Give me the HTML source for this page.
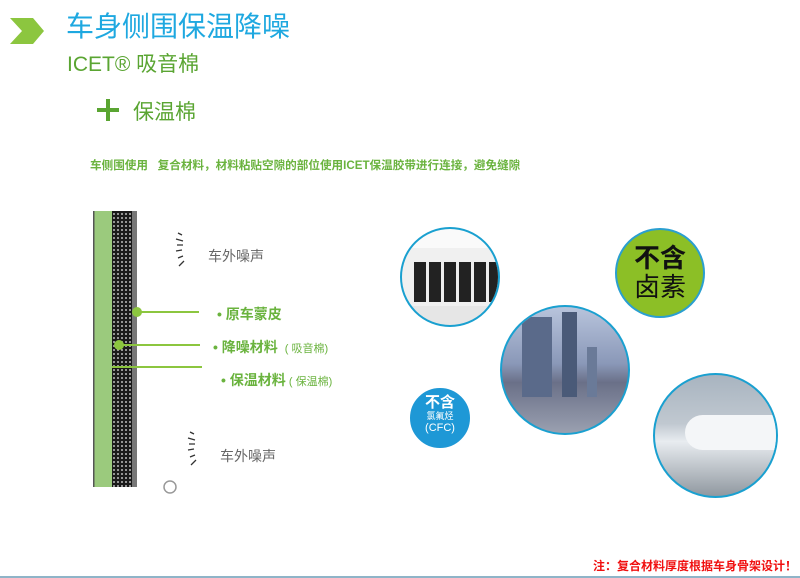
<!DOCTYPE html>
<html><head><meta charset="utf-8"><style>
body{margin:0;width:800px;height:578px;background:#fff;position:relative;overflow:hidden;font-family:"Liberation Sans","Noto Sans CJK SC",sans-serif}
.a{position:absolute;white-space:nowrap}
.c{position:absolute;border-radius:50%;box-sizing:border-box;border:2px solid #1aa0d0;overflow:hidden}
</style></head><body>
<svg class="a" style="left:0;top:0" width="800" height="578">
<polygon points="10,18 33,18 44,31 33,44 10,44 22,31" fill="#8cc63f"/>
<rect x="97" y="108" width="22" height="4" fill="#5aa532"/>
<rect x="106" y="99" width="4" height="22" fill="#5aa532"/>
<defs><pattern id="p" width="4" height="4" patternUnits="userSpaceOnUse"><rect width="4" height="4" fill="#1a1a1a"/><circle cx="2" cy="2" r="1" fill="#bbb"/></pattern></defs>
<rect x="93" y="211" width="19" height="276" fill="#9bca7d"/>
<rect x="93" y="211" width="1.5" height="276" fill="#555"/>
<rect x="112" y="211" width="20" height="276" fill="url(#p)"/>
<rect x="132" y="211" width="5" height="276" fill="#777"/>
<line x1="136" y1="312" x2="199" y2="312" stroke="#8cc63f" stroke-width="2"/>
<circle cx="137" cy="312" r="5" fill="#8cc63f"/>
<line x1="119" y1="345" x2="200" y2="345" stroke="#8cc63f" stroke-width="2"/>
<circle cx="119" cy="345" r="5" fill="#8cc63f"/>
<line x1="112" y1="367" x2="202" y2="367" stroke="#8cc63f" stroke-width="2"/>
<g stroke="#333" stroke-width="1.3">
<path d="M178,233 l4,2 M176,239 l7,2 M177,245 l6,0 M176,251 l6,-1 M178,258 l5,-2 M179,266 l5,-5"/>
<path d="M190,432 l4,2 M188,438 l7,2 M189,444 l6,0 M188,450 l6,-1 M190,457 l5,-2 M191,465 l5,-5"/>
</g>
<circle cx="170" cy="487" r="6" fill="none" stroke="#999" stroke-width="1.5"/>
<line x1="0" y1="577" x2="800" y2="577" stroke="#8fb4c8" stroke-width="2"/>
</svg>
<div class="a" style="left:66px;top:5px;font-size:28px;color:#1ea8e0">车身侧围保温降噪</div>
<div class="a" style="left:67px;top:48px;font-size:21px;color:#5aa532">ICET® 吸音棉</div>
<div class="a" style="left:133px;top:96px;font-size:21px;color:#5aa532">保温棉</div>
<div class="a" style="left:90px;top:157px;font-size:11.6px;font-weight:bold;color:#6ab33e">车侧围使用&nbsp;&nbsp; 复合材料，材料粘贴空隙的部位使用ICET保温胶带进行连接，避免缝隙</div>
<div class="a" style="left:208px;top:246px;font-size:14px;color:#666">车外噪声</div>
<div class="a" style="left:220px;top:446px;font-size:14px;color:#666">车外噪声</div>
<div class="a" style="left:217px;top:304px;font-size:14px;font-weight:bold;color:#6ab33e">• 原车蒙皮</div>
<div class="a" style="left:213px;top:337px;font-size:14px;font-weight:bold;color:#6ab33e">• 降噪材料 <span style="font-size:11px;font-weight:normal">&nbsp;( 吸音棉)</span></div>
<div class="a" style="left:221px;top:370px;font-size:14px;font-weight:bold;color:#6ab33e">• 保温材料<span style="font-size:11px;font-weight:normal"> ( 保温棉)</span></div>
<div class="c" style="left:400px;top:227px;width:100px;height:100px;background:linear-gradient(#fafafa 0 20%,#f0f0f0 20%,#f0f0f0 80%,#e6e6e6 80%)">
<div class="a" style="left:12px;top:33px;width:86px;height:40px;background:repeating-linear-gradient(90deg,#222 0 12px,#eee 12px 15px)"></div></div>
<div class="c" style="left:615px;top:228px;width:90px;height:90px;background:#8cbf26;border-color:#2a9fd0"><div class="a" style="left:0;width:86px;top:14px;text-align:center;font-size:26px;font-weight:bold;line-height:29px;color:#111;white-space:normal">不含<br><span style="font-weight:normal">卤素</span></div></div>
<div class="c" style="left:500px;top:305px;width:130px;height:130px;background:linear-gradient(180deg,#b8c4dc 0%,#8a98b8 45%,#6a7088 60%,#9aa0b0 100%)">
<div class="a" style="left:20px;top:10px;width:30px;height:80px;background:#5a6a8a"></div><div class="a" style="left:60px;top:5px;width:15px;height:85px;background:#4a5a78"></div><div class="a" style="left:85px;top:40px;width:10px;height:50px;background:#6a7a98"></div></div>
<div class="c" style="left:410px;top:388px;width:60px;height:60px;background:#1e98d6;border-color:#1e98d6;color:#fff;text-align:center">
<div style="font-size:15px;font-weight:bold;margin-top:5px;line-height:16px">不含</div><div style="font-size:9px;line-height:11px">氯氟烃</div><div style="font-size:11px;line-height:13px">(CFC)</div></div>
<div class="c" style="left:653px;top:373px;width:125px;height:125px;background:linear-gradient(180deg,#a8b4c0 0%,#c0c8d0 40%,#e8ecf0 55%,#9098a0 100%)">
<div class="a" style="left:30px;top:40px;width:95px;height:35px;border-radius:30px 10px 10px 30px;background:#f4f6f8"></div></div>
<div class="a" style="left:593px;top:557px;font-size:12px;font-weight:bold;color:#f01010">注：复合材料厚度根据车身骨架设计！</div>
</body></html>
